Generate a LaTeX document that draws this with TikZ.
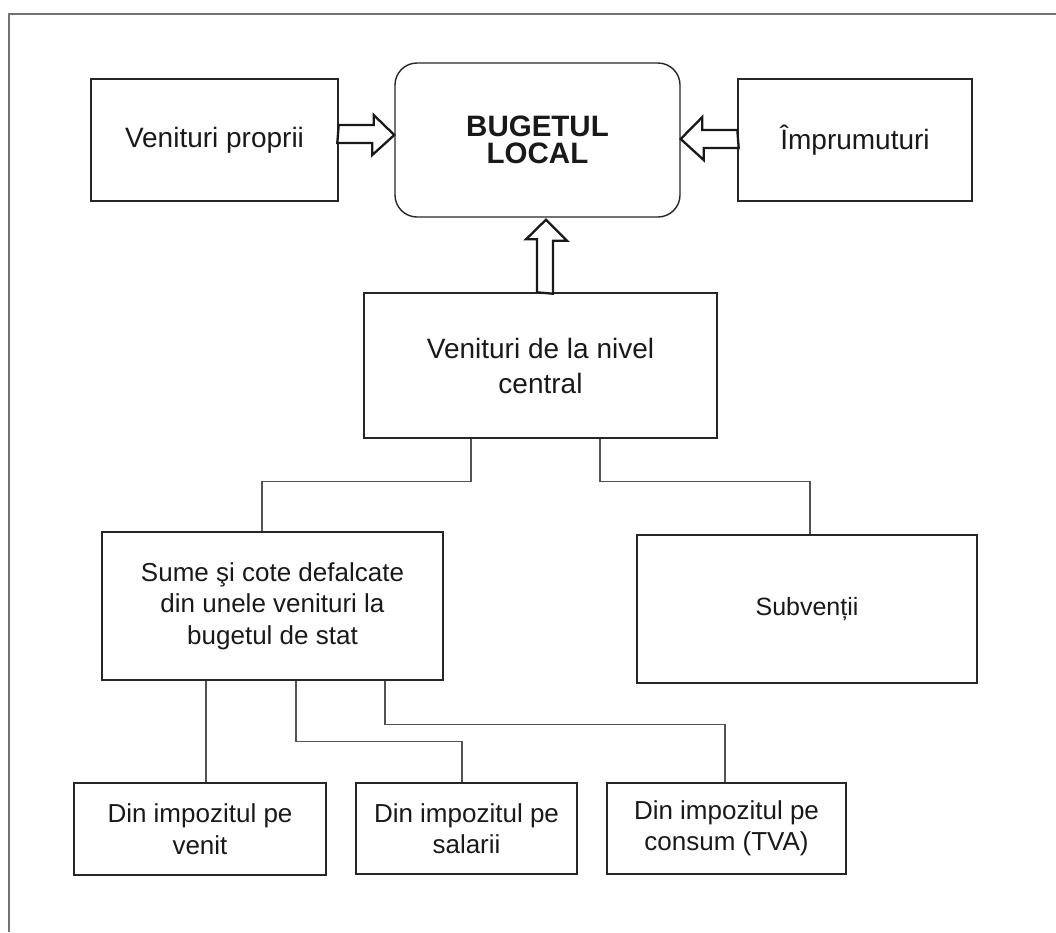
\documentclass[tikz,border=0pt]{standalone}
\usepackage{fontspec}
\setmainfont{Liberation Sans}
\usetikzlibrary{calc}

\begin{document}
\begin{tikzpicture}[x=1pt,y=-1pt,
    box/.style={draw=black!85, line width=1.4pt, align=center, inner sep=0pt, text=black!90},
    bigtxt/.style={font=\fontsize{28}{35}\selectfont},
    smalltxt/.style={font=\fontsize{26}{31.5}\selectfont},
    link/.style={draw=black!68, line width=1.2pt},
    blockarrow/.style={draw=black!90, line width=2.3pt, line join=miter, fill=white}]
    \useasboundingbox (0,0) rectangle (1056,932);
    \draw[draw=black!55, line width=1.5pt] (1056,14) -- (9,14) -- (9,932);
    % top row
    \node[box, bigtxt, minimum width=247pt, minimum height=122pt] (proprii) at (214.5,140) {Venituri proprii};
    \node[box, rounded corners=22pt, minimum width=285pt, minimum height=154pt,
          font={\fontsize{29.5}{27}\selectfont\bfseries}] (buget) at (537.5,140) {BUGETUL\\LOCAL};
    \node[box, bigtxt, minimum width=234pt, minimum height=122pt] (imprumut) at (855,140) {Împrumuturi};
    % middle
    \node[box, bigtxt, minimum width=353pt, minimum height=145pt] (central) at (540.5,365.5) {Venituri de la nivel\\central};
    \node[box, smalltxt, minimum width=341pt, minimum height=148pt] (sume) at (272.5,606) {Sume şi cote defalcate\\din unele venituri la\\bugetul de stat};
    \node[box, font=\fontsize{25}{30}\selectfont, minimum width=340pt, minimum height=148pt] (subv) at (807,609) {Subvenții};
    % bottom row
    \node[box, smalltxt, minimum width=252pt, minimum height=92pt] (venit) at (200,829) {Din impozitul pe\\venit};
    \node[box, smalltxt, minimum width=221pt, minimum height=91pt] (salarii) at (466.5,828.5) {Din impozitul pe\\salarii};
    \node[box, smalltxt, minimum width=239pt, minimum height=91pt] (consum) at (726.5,828.5) {Din impozitul pe\\consum (TVA)};
    % block arrows into the budget
    \draw[blockarrow] ($(proprii.east)+(0,-15)$) -- ++(35,0) -- ++(0,-10) -- ($(buget.west)+(0,-5)$)
        -- ++(-22,20) -- ++(0,-12) -- ++(-35,0) -- cycle;
    \draw[blockarrow] ($(imprumut.west)+(0,-10)$) -- ++(-35,0) -- ++(0,-13) -- ($(buget.east)+(0,-1)$)
        -- ++(23,21) -- ++(0,-12) -- ++(35,0) -- cycle;
    \draw[blockarrow] ($(central.north)+(-3.5,0)$) -- ++(0,-53) -- ++(-11,0) -- ($(buget.south)+(8.5,2)$)
        -- ++(21,21) -- ++(-14,0) -- ++(0,53) -- cycle;
    % links
    \draw[link] ($(central.south)+(-69.5,0)$) -- ++(0,43) -| ($(sume.north)+(-10.5,0)$);
    \draw[link] ($(central.south)+(59.5,0)$) -- ++(0,43) -| ($(subv.north)+(3,0)$);
    \draw[link] ($(sume.south)+(-66.5,0)$) -- ($(venit.north)+(6,0)$);
    \draw[link] ($(sume.south)+(23.5,0)$) -- ++(0,61) -| ($(salarii.north)+(-4.5,0)$);
    \draw[link] ($(sume.south)+(112.5,0)$) -- ++(0,44) -| ($(consum.north)+(-1.5,0)$);
\end{tikzpicture}
\end{document}
